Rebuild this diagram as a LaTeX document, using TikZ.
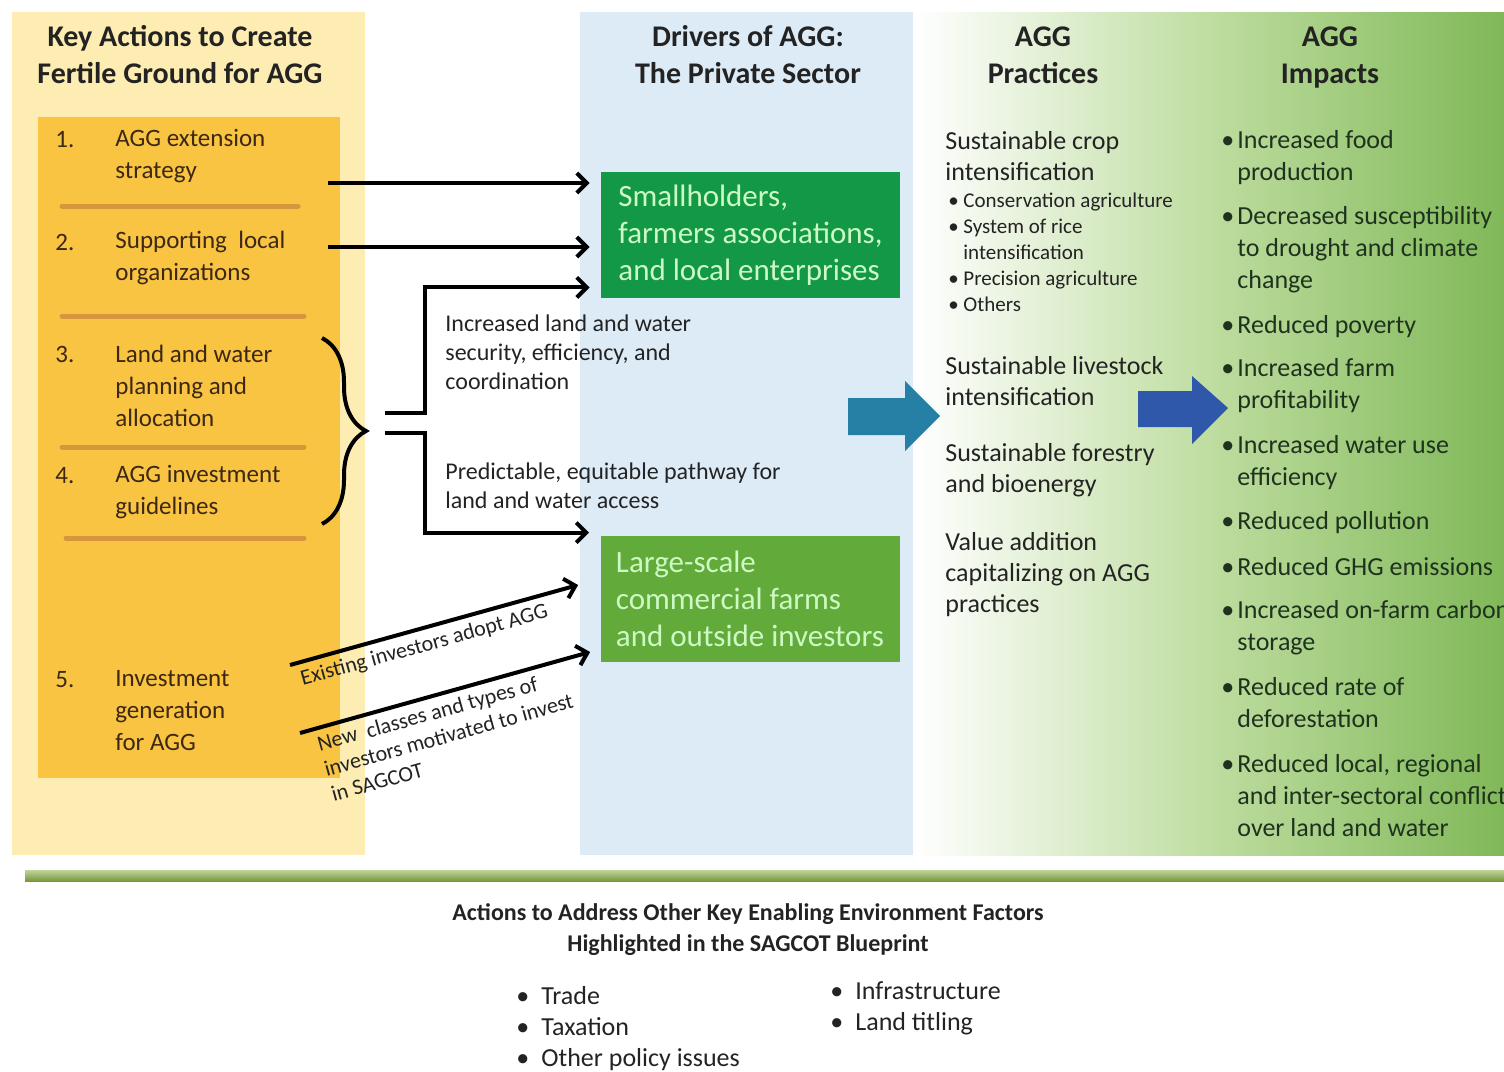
\documentclass[tikz,border=0pt]{standalone}
\usepackage{fontspec}
\setmainfont{Carlito}
\usetikzlibrary{arrows.meta,positioning,calc,decorations.pathreplacing}

\definecolor{paleyellow}{RGB}{253,237,178}
\definecolor{goldfill}{RGB}{249,196,66}
\definecolor{rulebrown}{RGB}{214,150,62}
\definecolor{paleblue}{RGB}{221,235,246}
\definecolor{darkgreen}{RGB}{18,152,70}
\definecolor{leafgreen}{RGB}{98,170,58}
\definecolor{mintgreen}{RGB}{205,250,195}
\definecolor{tealarrow}{RGB}{38,128,165}
\definecolor{bluearrow}{RGB}{48,88,170}
\definecolor{palegreen}{RGB}{190,221,160}
\definecolor{deepgreen}{RGB}{128,184,88}
\definecolor{olivebar}{RGB}{140,178,72}
\definecolor{inktext}{RGB}{35,35,35}
\definecolor{browntext}{RGB}{60,40,20}
\definecolor{impacttext}{RGB}{30,50,30}

\newcommand{\sbul}{\makebox[7.5pt][l]{\textbullet}}
\newcommand{\sind}{\hspace*{7.5pt}}
\newcommand{\ibul}{\makebox[8pt][l]{\textbullet}}
\newcommand{\iind}{\hspace*{8pt}}
\newcommand{\ebul}{\makebox[12.5pt][l]{\textbullet}}

\begin{document}
\begin{tikzpicture}[
    x=0.5pt, y=-0.5pt,
    colhead/.style={anchor=north, font=\fontsize{15}{18.5}\selectfont\bfseries, align=center, text=inktext, inner sep=0pt},
    actiontxt/.style={anchor=west, inner sep=0pt, font=\fontsize{12.5}{16}\selectfont, align=left, text=browntext},
    actorbox/.style={minimum width=149.5pt, minimum height=63pt, inner sep=0pt, font=\fontsize{15.5}{18.5}\selectfont, align=left, text=mintgreen},
    flowlabel/.style={anchor=west, inner sep=0pt, font=\fontsize{12}{14.5}\selectfont, align=left, text=inktext},
    slopelabel/.style={sloped, inner sep=3pt, font=\fontsize{11}{13}\selectfont, align=left, text=inktext},
    practice/.style={anchor=west, inner sep=0pt, font=\fontsize{13}{15.5}\selectfont, align=left, text=inktext},
    subpractice/.style={anchor=west, inner sep=0pt, font=\fontsize{10.5}{13}\selectfont, align=left, text=inktext},
    impact/.style={anchor=west, inner sep=0pt, font=\fontsize{13}{16}\selectfont, align=left, text=impacttext},
    enabler/.style={anchor=west, inner sep=0pt, font=\fontsize{13}{15.5}\selectfont, align=left, text=inktext},
    divider/.style={rulebrown, line width=2.5pt, line cap=round},
    conn/.style={-{Straight Barb[length=5pt, width=10pt]}, line width=2pt, black}
]
    \useasboundingbox (0,0) rectangle (1504,1071);

    % column backgrounds
    \fill[paleyellow] (12,12) rectangle (365,855);
    \fill[goldfill] (38,117) rectangle (340,778);
    \fill[paleblue] (580,12) rectangle (913,855);
    \shade[left color=white, right color=palegreen] (915,12) rectangle (1211,855);
    \shade[left color=palegreen, right color=deepgreen] (1210,12) rectangle (1504,855);

    \draw[divider] (62,206) -- (298,206);
    \draw[divider] (62,316) -- (304,316);
    \draw[divider] (62,447) -- (304,447);
    \draw[divider] (66,538) -- (304,538);

    % headers
    \node[colhead] (hkey) at (180,25) {Key Actions to Create\\Fertile Ground for AGG};
    \node[colhead] (hdrv) at (748,25) {Drivers of AGG:\\The Private Sector};
    \node[colhead] (hprac) at (1043,26) {AGG\\Practices};
    \node[colhead] (himp) at (1330,26) {AGG\\Impacts};

    % key actions
    \node[actiontxt] (n1) at (55,140) {1.};
    \node[actiontxt] (k1) at (115,156) {AGG extension\\strategy};
    \node[actiontxt] (n2) at (55,242) {2.};
    \node[actiontxt] (k2) at (115,258) {Supporting~ local\\organizations};
    \node[actiontxt] (n3) at (55,354) {3.};
    \node[actiontxt] (k3) at (115,386) {Land and water\\planning and\\allocation};
    \node[actiontxt] (n4) at (55,476) {4.};
    \node[actiontxt] (k4) at (115,492) {AGG investment\\guidelines};
    \node[actiontxt] (n5) at (55,680) {5.};
    \node[actiontxt] (k5) at (115,711) {Investment\\generation\\for AGG};

    % private sector drivers
    \node[actorbox, fill=darkgreen] (small) at (750.5,235) {Smallholders,\\farmers associations,\\and local enterprises};
    \node[actorbox, fill=leafgreen] (large) at (750,599) {Large-scale\\commercial farms\\and outside investors};

    \coordinate (k1out) at (328,183);
    \coordinate (k2out) at (328,247);
    \draw[conn, shorten >=5.5pt] (k1out) -- (k1out -| small.west);
    \draw[conn, shorten >=5.5pt] (k2out) -- (k2out -| small.west);

    \draw[line width=2pt, decorate, decoration={brace, amplitude=22pt}] (322,338) -- (322,524);
    \coordinate (upstub) at (385,413);
    \coordinate (lowstub) at (385,433);
    \draw[conn] (upstub) -- ++(40,0) |- ($(small.south west)+(-11,-11)$);
    \draw[conn] (lowstub) -- ++(40,0) |- ($(large.north west)+(-11,-3)$);

    \node[flowlabel] (secure) at (445,352) {Increased land and water\\security, efficiency, and\\coordination};
    \node[flowlabel] (pathway) at (445,486) {Predictable, equitable pathway for\\land and water access};

    \coordinate (exist) at (290,665);
    \coordinate (newinv) at (300,733);
    \draw[conn] (exist) -- ($(large.west)+(-22,-14)$)
        node[slopelabel, below, pos=0.45] {Existing investors adopt AGG};
    \draw[conn] (newinv) -- ($(large.west)+(-10,53)$)
        node[slopelabel, anchor=north west, pos=0.02] {New~ classes and types of\\investors motivated to invest\\in SAGCOT};

    % big arrows
    \fill[tealarrow] (848,398) -- (905,398) -- (905,381) -- (940,416) -- (905,451) -- (905,435) -- (848,435) -- cycle;
    \fill[bluearrow] (1138,391) -- (1192,391) -- (1192,376) -- (1228,408) -- (1192,444) -- (1192,427) -- (1138,427) -- cycle;

    % practices
    \node[practice] (crop) at (945,156) {Sustainable crop\\intensification};
    \node[subpractice] (cropsub) at (948,252) {\sbul Conservation agriculture\\\sbul System of rice\\\sind intensification\\\sbul Precision agriculture\\\sbul Others};
    \node[practice] (livestock) at (945,381) {Sustainable livestock\\intensification};
    \node[practice] (forestry) at (945,470) {Sustainable forestry\\and bioenergy};
    \node[practice] (valueadd) at (945,575) {Value addition\\capitalizing on AGG\\practices};

    % impacts
    \node[impact] (i1) at (1221,158) {\ibul Increased food\\\iind production};
    \node[impact] (i2) at (1221,250) {\ibul Decreased susceptibility\\\iind to drought and climate\\\iind change};
    \node[impact] (i3) at (1221,327) {\ibul Reduced poverty};
    \node[impact] (i4) at (1221,386) {\ibul Increased farm\\\iind profitability};
    \node[impact] (i5) at (1221,463) {\ibul Increased water use\\\iind efficiency};
    \node[impact] (i6) at (1221,523) {\ibul Reduced pollution};
    \node[impact] (i7) at (1221,567) {\ibul Reduced GHG emissions};
    \node[impact] (i8) at (1221,628) {\ibul Increased on-farm carbon\\\iind storage};
    \node[impact] (i9) at (1221,703) {\ibul Reduced rate of\\\iind deforestation};
    \node[impact] (i10) at (1221,796) {\ibul Reduced local, regional\\\iind and inter-sectoral conflict\\\iind over land and water};

    % enabling environment
    \shade[top color=olivebar!55, bottom color=olivebar!85!black] (25,870) rectangle (1504,881);
    \node[colhead, anchor=center, font=\fontsize{12}{15.5}\selectfont\bfseries] (hother) at (748,930) {Actions to Address Other Key Enabling Environment Factors\\Highlighted in the SAGCOT Blueprint};
    \node[enabler] (enabl) at (516,1029) {\ebul Trade\\\ebul Taxation\\\ebul Other policy issues};
    \node[enabler] (enabr) at (830,1008) {\ebul Infrastructure\\\ebul Land titling};
\end{tikzpicture}
\end{document}
